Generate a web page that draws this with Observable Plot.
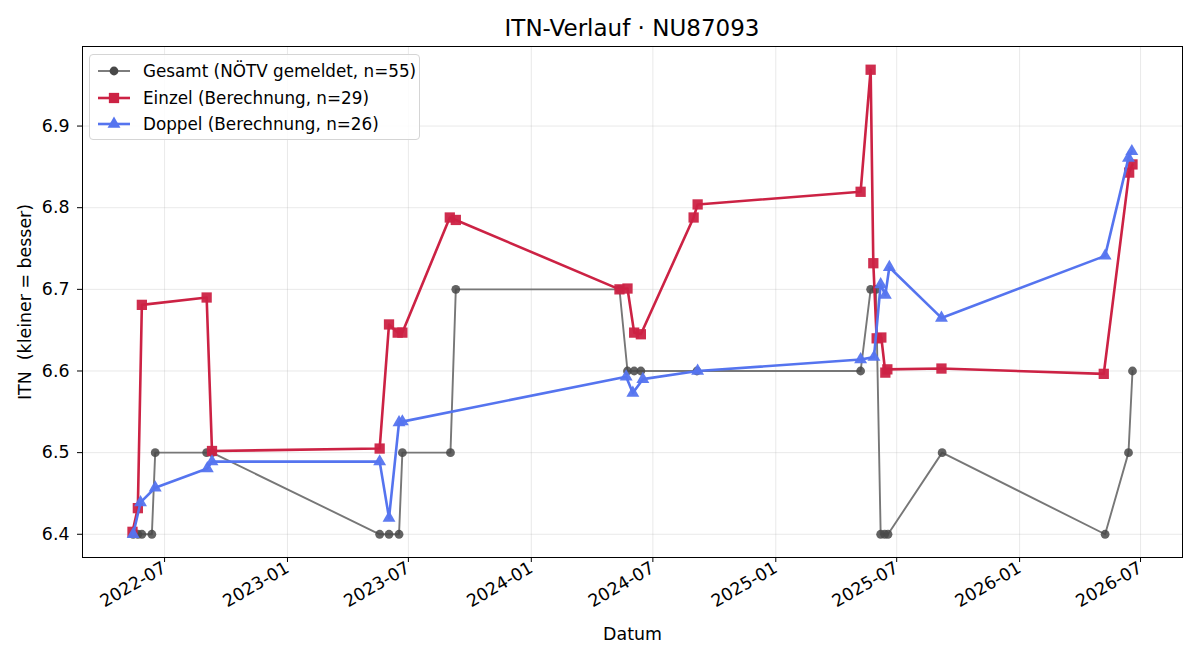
<!DOCTYPE html>
<html>
<head>
<meta charset="utf-8">
<script src="https://cdn.jsdelivr.net/npm/d3@7"></script>
<script src="https://cdn.jsdelivr.net/npm/@observablehq/plot@0.6"></script>
<style>
  body { margin: 0; background: #fff; font-family: "DejaVu Sans", sans-serif; }
  #wrap { position: relative; width: 1200px; height: 660px; overflow: hidden; }
  #title { position: absolute; left: 82px; width: 1100px; top: 14px; text-align: center;
           font-size: 23px; line-height: 28px; color: #000; white-space: nowrap; }
  #chart { position: absolute; left: 0; top: 40px; }
  #legend { position: absolute; left: 89px; top: 54px; width: 331px; height: 86px;
            border: 1px solid #d5d5d5; border-radius: 4px; background: rgba(255,255,255,0.85);
            box-sizing: border-box; }
  .row { position: absolute; left: 0; height: 20px; display: flex; align-items: center; }
  .row svg { margin-left: 7px; }
  .row span { margin-left: 12px; font-size: 16.8px; white-space: nowrap; color: #000; }
</style>
</head>
<body>
<div id="wrap">
  <div id="title"></div>
  <div id="chart"></div>
  <div id="legend"></div>
</div>
<script>
// ---------- data ----------
const titleText = "ITN-Verlauf · NU87093";
const xLabel = "Datum";
const yLabel = "ITN\u00a0 (kleiner = besser)";

const seriesNames = [
  "Gesamt (NÖTV gemeldet, n=55)",
  "Einzel (Berechnung, n=29)",
  "Doppel (Berechnung, n=26)"
];

const gesamtDates = [
  "2022-05-15","2022-05-22","2022-05-28","2022-06-12","2022-06-17","2022-09-02","2022-09-10",
  "2023-05-19","2023-06-02","2023-06-17","2023-06-22","2023-09-02","2023-09-10",
  "2024-05-12","2024-05-24","2024-06-03","2024-06-13","2024-09-05",
  "2025-05-08","2025-05-23","2025-05-31","2025-06-07","2025-06-13","2025-06-18","2025-09-07",
  "2026-05-09","2026-06-13","2026-06-19"
];
const gesamtValues = [
  6.4, 6.4, 6.4, 6.4, 6.5, 6.5, 6.5,
  6.4, 6.4, 6.4, 6.5, 6.5, 6.7,
  6.7, 6.6, 6.6, 6.6, 6.6,
  6.6, 6.7, 6.7, 6.4, 6.4, 6.4, 6.5,
  6.4, 6.5, 6.6
];

const einzelDates = [
  "2022-05-14","2022-05-22","2022-05-28","2022-09-02","2022-09-10",
  "2023-05-19","2023-06-02","2023-06-15","2023-06-22","2023-09-01","2023-09-10",
  "2024-05-12","2024-05-24","2024-06-03","2024-06-13","2024-08-31","2024-09-06",
  "2025-05-08","2025-05-23","2025-05-27","2025-06-01","2025-06-08","2025-06-14","2025-06-17","2025-09-06",
  "2026-05-07","2026-06-14","2026-06-19"
];
const einzelValues = [
  6.403, 6.432, 6.681, 6.690, 6.502,
  6.505, 6.657, 6.647, 6.647, 6.788, 6.785,
  6.700, 6.701, 6.647, 6.645, 6.788, 6.804,
  6.8195, 6.969, 6.732, 6.640, 6.641, 6.598, 6.602, 6.603,
  6.5965, 6.843, 6.853
];

const doppelDates = [
  "2022-05-15","2022-05-26","2022-06-17","2022-09-03","2022-09-10",
  "2023-05-19","2023-06-02","2023-06-17","2023-06-22",
  "2024-05-22","2024-06-01","2024-06-16","2024-09-06",
  "2025-05-08","2025-05-28","2025-06-07","2025-06-14","2025-06-20","2025-09-06",
  "2026-05-09","2026-06-13","2026-06-18"
];
const doppelValues = [
  6.400, 6.439, 6.457, 6.4805, 6.489,
  6.489, 6.420, 6.537, 6.538,
  6.593, 6.573, 6.590, 6.600,
  6.614, 6.617, 6.706, 6.693, 6.727, 6.665,
  6.741, 6.861, 6.869
];

const xTickLabels = ["2022-07","2023-01","2023-07","2024-01","2024-07","2025-01","2025-07","2026-01","2026-07"];
const yTickValues = [6.4, 6.5, 6.6, 6.7, 6.8, 6.9];

// ---------- styles ----------
const colGesamtLine = "#777777";
const colGesamtDot = "#484848";
const colEinzel = "#cc2244";
const colDoppel = "#5574ef";
const rGesamt = 4.4, rEinzel = 5.8, rDoppel = 4.8;

// ---------- build ----------
const parseDay = d3.utcParse("%Y-%m-%d");
const parseMonth = d3.utcParse("%Y-%m");
const toRows = (dates, vals) => dates.map((d, i) => ({date: parseDay(d), itn: vals[i]}));
const gesamt = toRows(gesamtDates, gesamtValues);
const einzel = toRows(einzelDates, einzelValues);
const doppel = toRows(doppelDates, doppelValues);
const all = [...gesamt, ...einzel, ...doppel];

const [x0, x1] = d3.extent(all, d => +d.date);
const xpad = (x1 - x0) * 0.05;
const [y0, y1] = d3.extent(all, d => d.itn);
const ypad = (y1 - y0) * 0.05;
const xTicks = xTickLabels.map(parseMonth);

document.getElementById("title").textContent = titleText;

const chart = Plot.plot({
  width: 1200,
  height: 620,
  marginLeft: 82,
  marginRight: 18,
  marginTop: 6,
  marginBottom: 103,
  style: {fontFamily: "DejaVu Sans", fontSize: "17.4px", color: "#000", background: "#fff"},
  x: {type: "utc", domain: [new Date(x0 - xpad), new Date(x1 + xpad)]},
  y: {domain: [y0 - ypad, y1 + ypad]},
  marks: [
    Plot.gridX({ticks: xTicks, stroke: "#b0b0b0", strokeOpacity: 0.35, strokeWidth: 0.8}),
    Plot.gridY({ticks: yTickValues, stroke: "#b0b0b0", strokeOpacity: 0.35, strokeWidth: 0.8}),
    Plot.axisX({ticks: xTicks, tickFormat: d3.utcFormat("%Y-%m"), tickRotate: -30, tickSize: 5,
                tickPadding: 4, label: xLabel, labelAnchor: "center", labelArrow: "none", labelOffset: 82}),
    Plot.axisY({ticks: yTickValues, tickFormat: d => d.toFixed(1), tickSize: 5, tickPadding: 8,
                label: yLabel, labelAnchor: "center", labelArrow: "none", labelOffset: 64}),
    Plot.line(gesamt, {x: "date", y: "itn", stroke: colGesamtLine, strokeWidth: 1.9}),
    Plot.dot(gesamt, {x: "date", y: "itn", r: rGesamt, fill: colGesamtDot, fillOpacity: 0.85}),
    Plot.line(einzel, {x: "date", y: "itn", stroke: colEinzel, strokeWidth: 2.6}),
    Plot.dot(einzel, {x: "date", y: "itn", symbol: "square", r: rEinzel, fill: colEinzel, fillOpacity: 0.95}),
    Plot.line(doppel, {x: "date", y: "itn", stroke: colDoppel, strokeWidth: 2.6}),
    Plot.dot(doppel, {x: "date", y: "itn", symbol: "triangle", r: rDoppel, fill: colDoppel, fillOpacity: 0.95}),
    Plot.frame({stroke: "#000", strokeWidth: 1})
  ]
});
document.getElementById("chart").appendChild(chart);

// ---------- legend ----------
const legend = document.getElementById("legend");
const legendItems = [
  {name: seriesNames[0], line: colGesamtLine, fill: colGesamtDot, sym: d3.symbolCircle, r: rGesamt, w: 1.9},
  {name: seriesNames[1], line: colEinzel, fill: colEinzel, sym: d3.symbolSquare, r: rEinzel, w: 2.6},
  {name: seriesNames[2], line: colDoppel, fill: colDoppel, sym: d3.symbolTriangle, r: rDoppel, w: 2.6}
];
legendItems.forEach((it, i) => {
  const row = document.createElement("div");
  row.className = "row";
  row.style.top = (6 + i * 26.5) + "px";
  const ns = "http://www.w3.org/2000/svg";
  const svg = document.createElementNS(ns, "svg");
  svg.setAttribute("width", 34); svg.setAttribute("height", 20);
  const ln = document.createElementNS(ns, "line");
  ln.setAttribute("x1", 1); ln.setAttribute("x2", 33); ln.setAttribute("y1", 10); ln.setAttribute("y2", 10);
  ln.setAttribute("stroke", it.line); ln.setAttribute("stroke-width", it.w);
  svg.appendChild(ln);
  const p = document.createElementNS(ns, "path");
  p.setAttribute("d", d3.symbol(it.sym, Math.PI * it.r * it.r)());
  p.setAttribute("transform", "translate(17,10)");
  p.setAttribute("fill", it.fill);
  svg.appendChild(p);
  row.appendChild(svg);
  const sp = document.createElement("span");
  sp.textContent = it.name;
  row.appendChild(sp);
  legend.appendChild(row);
});
</script>
</body>
</html>
